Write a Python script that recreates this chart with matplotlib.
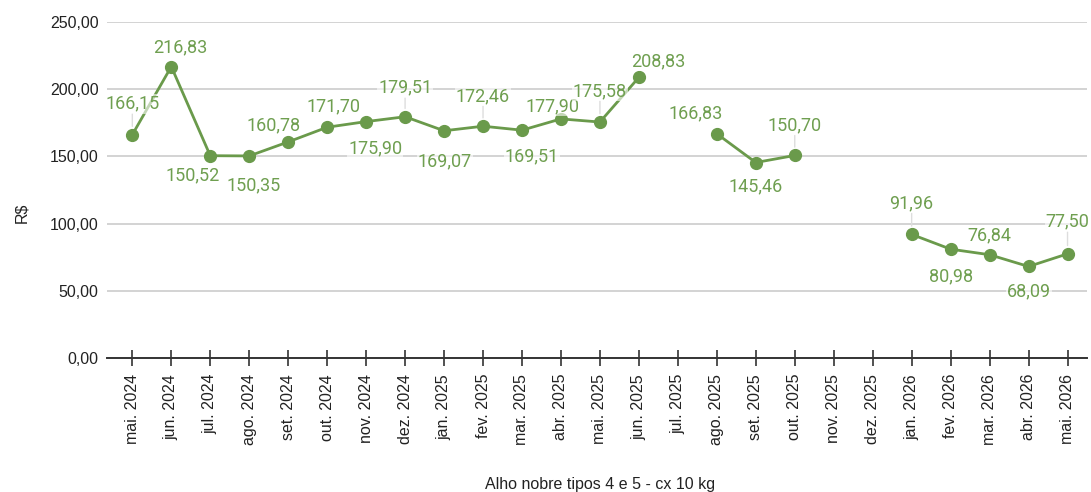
import numpy as np
import matplotlib
matplotlib.use("Agg")
import matplotlib.pyplot as plt

months = ["mai. 2024", "jun. 2024", "jul. 2024", "ago. 2024", "set. 2024", "out. 2024",
          "nov. 2024", "dez. 2024", "jan. 2025", "fev. 2025", "mar. 2025", "abr. 2025",
          "mai. 2025", "jun. 2025", "jul. 2025", "ago. 2025", "set. 2025", "out. 2025",
          "nov. 2025", "dez. 2025", "jan. 2026", "fev. 2026", "mar. 2026", "abr. 2026",
          "mai. 2026"]
prices = [166.15, 216.83, 150.52, 150.35, 160.78, 171.70, 175.90, 179.51, 169.07, 172.46,
          169.51, 177.90, 175.58, 208.83, np.nan, 166.83, 145.46, 150.70, np.nan, np.nan,
          91.96, 80.98, 76.84, 68.09, 77.50]
y_ticks = [0, 50, 100, 150, 200, 250]
y_tick_labels = ["0,00", "50,00", "100,00", "150,00", "200,00", "250,00"]
x_title = "Alho nobre tipos 4 e 5 - cx 10 kg"
y_title = "R$"

# label offsets in pixels (dx, dy) and whether a leader line is drawn
offsets = {0: (0, 31, True), 1: (9, 19, False), 2: (-18, -20, False), 3: (4, -29, False),
           4: (-15, 17, False), 5: (6, 21, False), 6: (9, -27, False), 7: (0, 29, True),
           8: (1, -31, False), 9: (0, 30, True), 10: (10, -26, False), 11: (-8, 13, False),
           12: (0, 31, True), 13: (19, 16, False), 15: (-21, 20, False), 16: (0, -24, False),
           17: (0, 30, True), 20: (0, 31, True), 21: (0, -27, False), 22: (0, 19, False),
           23: (0, -25, False), 24: (0, 32, True)}

green = "#6a9a4b"
label_green = "#6f9f50"

fig = plt.figure(figsize=(10.91, 4.92), dpi=100)
ax = fig.add_axes([107 / 1091, (492 - 358) / 492, 980 / 1091, 336 / 492])

x = np.arange(len(months))
ax.plot(x, prices, color=green, lw=2.0, marker="o", markersize=8.5, zorder=3)

ax.set_xlim(-0.65, len(months) - 0.5)
ax.set_ylim(0, 250)
ax.set_yticks(y_ticks)
ax.set_yticklabels(y_tick_labels, fontsize=11.5, family="Liberation Sans", color="#222222")
ax.set_xticks(x)
ax.set_xticklabels(months, rotation=90, fontsize=11.5, family="Liberation Sans", color="#222222")
ax.tick_params(axis="y", length=0, pad=6)
ax.tick_params(axis="x", direction="inout", length=11, width=1.2, color="#333333", pad=6)

for s in ["top", "right", "left"]:
    ax.spines[s].set_visible(False)
ax.spines["bottom"].set_color("#333333")
ax.spines["bottom"].set_linewidth(1.4)
ax.spines["bottom"].set_zorder(4)

ax.yaxis.grid(True, color="#cccccc", lw=1.2)
ax.set_axisbelow(True)

for i, v in enumerate(prices):
    if np.isnan(v):
        continue
    dx, dy, leader = offsets[i]
    va = "center"
    ax.annotate(f"{v:.2f}".replace(".", ","), xy=(i, v), xytext=(dx, dy),
                textcoords="offset pixels", ha="center", va="center",
                fontsize=13, family="Roboto", color=label_green, zorder=5,
                bbox=dict(boxstyle="square,pad=0.05", fc="white", ec="none", alpha=0.6))
    if leader:
        ax.annotate("", xy=(i, v), xytext=(dx, dy - 10),
                    textcoords="offset pixels",
                    arrowprops=dict(arrowstyle="-", color="#dddddd", lw=1,
                                    shrinkA=0, shrinkB=6), zorder=2)

fig.text(22 / 1091, 1 - 213 / 492, y_title, rotation=90, ha="center", va="center",
         fontsize=11.5, family="Liberation Sans", color="#222222")
fig.text(600 / 1091, 1 - 484 / 492, x_title, ha="center", va="center",
         fontsize=11.5, family="Liberation Sans", color="#222222")

fig.savefig("out.png", dpi=100, facecolor="white")
